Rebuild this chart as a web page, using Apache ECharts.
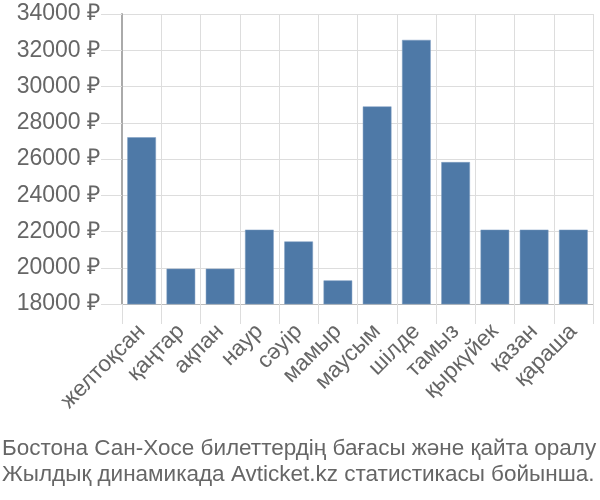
<!DOCTYPE html>
<html>
<head>
<meta charset="utf-8">
<script src="https://cdn.jsdelivr.net/npm/echarts@6/dist/echarts.min.js"></script>
<style>html,body{margin:0;padding:0;background:#fff}#c{width:600px;height:500px}</style>
</head>
<body>
<div id="c"></div>
<script>
const categories = ['желтоқсан','қаңтар','ақпан','наур','сәуір','мамыр','маусым','шілде','тамыз','қыркүйек','қазан','қараша'];
const prices = [27200, 19950, 19950, 22100, 21450, 19300, 28900, 32570, 25830, 22100, 22100, 22100];
const yMin = 18000, yMax = 34000, yStep = 2000;
const captionLines = ['Бостона Сан-Хосе билеттердің бағасы және қайта оралу', 'Жылдық динамикада Avticket.kz статистикасы бойынша.'];

const chart = echarts.init(document.getElementById('c'), null, {renderer:'canvas'});
const font = '"Liberation Sans", Arial, sans-serif';
chart.setOption({
  animation: false,
  grid: {left: 122, right: 7, top: 14, bottom: 196, containLabel: false},
  xAxis: {
    type: 'category', data: categories,
    axisLine: {show: true, lineStyle: {color: '#bbb', width: 1}},
    axisTick: {show: true, length: 20, alignWithLabel: false, lineStyle: {color: '#ddd'}},
    splitLine: {show: true, lineStyle: {color: '#ddd', width: 1}},
    axisLabel: {rotate: 45, margin: 24, color: '#666', fontSize: 22.5, fontFamily: font, interval: 0}
  },
  yAxis: {
    type: 'value', min: yMin, max: yMax, interval: yStep,
    axisLine: {show: true, lineStyle: {color: '#aaa', width: 2}},
    axisTick: {show: true, length: 21, lineStyle: {color: '#ddd'}},
    splitLine: {show: true, lineStyle: {color: '#ddd', width: 1}},
    axisLabel: {margin: 22, color: '#666', fontSize: 23, fontFamily: font, formatter: v => v + ' ₽'}
  },
  graphic: captionLines.map((t, i) => ({
    type: 'text', left: 2, top: 437 + i * 26,
    style: {text: t, fill: '#666', fontSize: 22.5, fontFamily: font}
  })),
  series: [{
    type: 'bar', data: prices, barCategoryGap: '27%',
    itemStyle: {color: '#4e79a7', borderColor: '#7c9cc0', borderWidth: 0.5}
  }]
});
</script>
</body>
</html>
